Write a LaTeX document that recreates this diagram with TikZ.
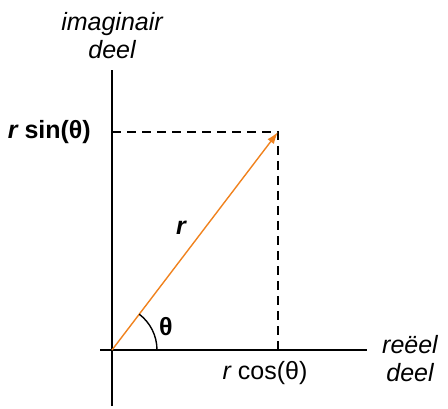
\documentclass[tikz,border=0pt]{standalone}
\usepackage{fontspec}
\setmainfont{Liberation Sans}
\usetikzlibrary{arrows.meta, positioning}

\begin{document}
\begin{tikzpicture}[
    x=1pt, y=1pt,
    >=Stealth,
    axis/.style={draw, line width=1.6pt},
    guide/.style={draw, line width=1.4pt, dash pattern=on 9pt off 6pt},
    vec/.style={draw=vecorange, line width=1.4pt, -{Latex[length=12pt, width=8pt]}},
    lbl/.style={font=\fontsize{25}{28}\selectfont, inner sep=0pt, align=center}
  ]
    \definecolor{vecorange}{RGB}{240,130,30}
    \useasboundingbox (0,0) rectangle (448,408);

    % axes and the point
    \coordinate (origin) at (112,58);
    \coordinate (tip) at (278,276);
    \coordinate (ytop) at (112,338);
    \coordinate (ybot) at (112,2);
    \coordinate (xleft) at (100,58);
    \coordinate (xright) at (367,58);
    \coordinate (ysin) at (112,276);
    \coordinate (xcos) at (278,58);

    \path[axis] (ybot) -- (ytop);
    \path[axis] (xleft) -- (xright);

    % projections onto the axes
    \path[guide] (ysin) -- (tip) -- (xcos);

    \draw[vec] (origin) -- (tip);
    \draw[line width=1.4pt] ([xshift=45pt]origin) arc[start angle=0, end angle=52.7, radius=45pt];

    \node[lbl] (imlabel) at (112,372) {\itshape imaginair\\\itshape deel};
    \node[lbl] (relabel) at (410,49) {\itshape re\"eel\\\itshape deel};
    \node[lbl, anchor=east] (sinlabel) at (91,276) {\bfseries\itshape r\upshape\ sin(θ)};
    \node[lbl] (coslabel) at (265,35) {\itshape r\upshape\ cos(θ)};
    \node[lbl] (rlabel) at (181,180) {\bfseries\itshape r};
    \node[lbl] (thlabel) at (166,81) {\bfseries θ};
  \end{tikzpicture}
\end{document}
